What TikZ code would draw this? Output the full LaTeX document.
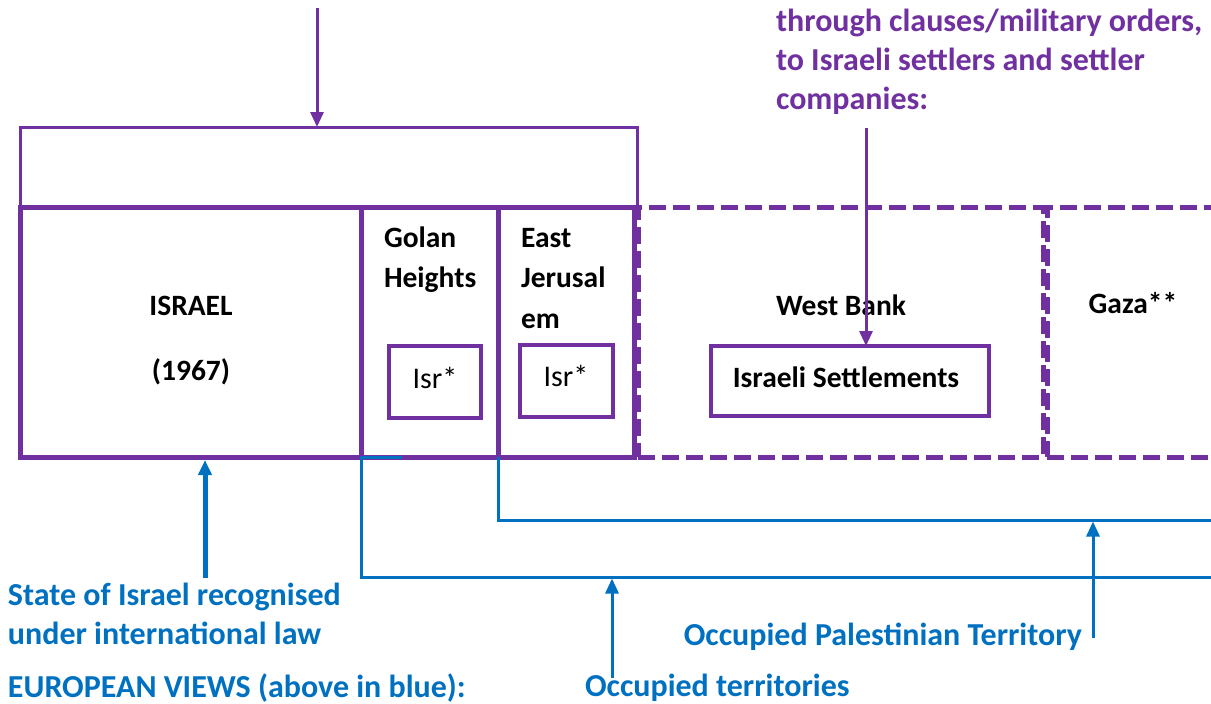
\documentclass[tikz,border=0pt]{standalone}
\usepackage{fontspec}
\setmainfont{Carlito}
\usetikzlibrary{arrows.meta}
\definecolor{purp}{HTML}{7030A0}
\definecolor{blu}{HTML}{0070C0}
\begin{document}
\begin{tikzpicture}[x=1pt,y=-1pt,
  every node/.style={outer sep=0pt, inner sep=0pt},
  topb/.style={draw=purp, line width=3pt, rectangle},
  mainb/.style={draw=purp, line width=5pt, rectangle},
  dashb/.style={draw=purp, line width=5pt, rectangle, dash pattern=on 17pt off 7pt},
  inb/.style={draw=purp, line width=3.5pt, rectangle},
  bt/.style={font=\fontsize{29.5}{35}\selectfont\bfseries, anchor=base},
  btw/.style={bt, anchor=base west},
  bigt/.style={font=\fontsize{32}{38}\selectfont\bfseries, anchor=base west},
  rt/.style={font=\fontsize{30}{34}\selectfont, anchor=base},
  pt/.style={bigt, text=purp},
  blt/.style={bigt, text=blu},
  parr/.style={draw=purp, line width=3pt, -{Triangle[width=13pt,length=15pt]}},
  bl/.style={draw=blu, line width=3pt},
  barr/.style={draw=blu, line width=3pt, -{Triangle[width=13pt,length=15pt]}}
]
\useasboundingbox (0,0) rectangle (1211,704);

% dashed regions
\node[dashb, minimum width=405pt, minimum height=250pt] (wb) at (840.5,332) {};
\node[dashb, minimum width=178pt, minimum height=250pt] (gaza) at (1136,332) {};

% solid regions
\node[topb, minimum width=617pt, minimum height=80pt] (topbox) at (328.5,167) {};
\node[mainb, minimum width=341pt, minimum height=250pt] (israel) at (190.5,332) {};
\node[mainb, minimum width=137pt, minimum height=250pt] (golan) at (429.5,332) {};
\node[mainb, minimum width=136pt, minimum height=250pt] (ej) at (566,332) {};

% inner boxes
\node[inb, minimum width=92pt, minimum height=72pt] (isr1) at (435,382) {};
\node[inb, minimum width=93pt, minimum height=72pt] (isr2) at (566.5,381) {};
\node[inb, minimum width=278pt, minimum height=70pt] (settle) at (850,381) {};

% black labels
\node[bt] (tisrael) at (191,315) {ISRAEL};
\node[bt] (t1967) at (191,380) {(1967)};
\node[btw] (tgolan) at (384,247) {Golan};
\node[btw] (theights) at (384,287) {Heights};
\node[btw] (teast) at (521,247) {East};
\node[btw] (tjer) at (521,287) {Jerusal};
\node[btw] (tem) at (521,328) {em};
\node[bt] (twb) at (841,315) {West Bank};
\node[bt] (tgaza) at (1133,313) {Gaza**};
\node[rt] (tisr1) at (435,388) {Isr*};
\node[rt] (tisr2) at (566,386) {Isr*};
\node[bt] (tsettle) at (846,387) {Israeli Settlements};

% purple text
\node[pt] (p1) at (776,31) {through clauses/military orders,};
\node[pt] (p2) at (776,70) {to Israeli settlers and settler};
\node[pt] (p3) at (776,109) {companies:};

% purple arrows
\coordinate (ta) at (317,8);
\draw[parr] (ta) -- (ta |- topbox.north);
\coordinate (sa) at (866,128);
\draw[parr] (sa) -- (sa |- settle.north);

% blue brackets
\coordinate (b1s) at (402,457);
\coordinate (b1e) at (1211,577);
\draw[bl] (b1s) -- (golan.south west) |- (b1e);
\coordinate (b2e) at (1211,520);
\draw[bl] (ej.south west) |- (b2e);

% blue arrows
\coordinate (sA) at (205,578);
\draw[barr, line width=5pt] (sA) -- ([yshift=-3pt]sA |- israel.south);
\coordinate (oA) at (612,678);
\draw[barr] (oA) -- ([yshift=-1.5pt]oA |- b1e);
\coordinate (pA) at (1093,638);
\draw[barr] (pA) -- ([yshift=-1.5pt]pA |- b2e);

% blue text
\node[blt] (s1) at (8,605) {State of Israel recognised};
\node[blt] (s2) at (8,644) {under international law};
\node[blt] (s3) at (8,697) {EUROPEAN VIEWS (above in blue):};
\node[blt] (ot) at (585,696) {Occupied territories};
\node[bigt, anchor=base east, text=blu] (opt) at (1082,645) {Occupied Palestinian Territory};
\end{tikzpicture}
\end{document}
